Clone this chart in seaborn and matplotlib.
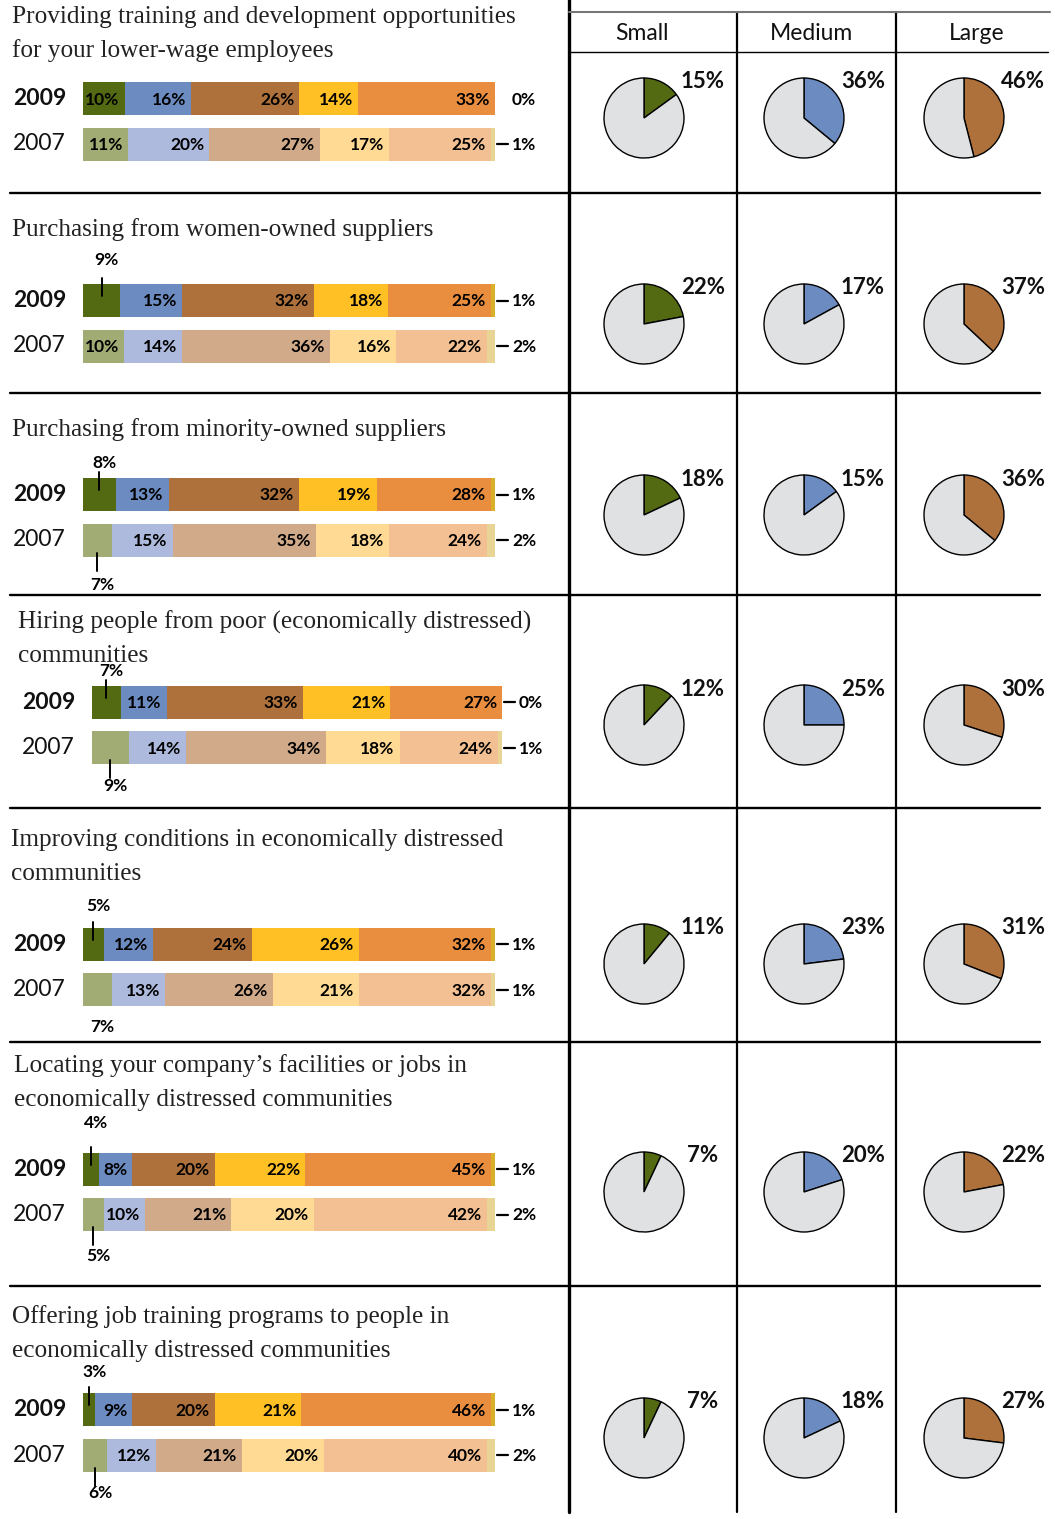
import numpy as np
import pandas as pd
import matplotlib.pyplot as plt
import seaborn as sns

sns.set_theme(style="white")
plt.rcParams['font.family'] = ['Lato', 'DejaVu Sans']

W, H = 1055, 1519

# ---- data ----
titles = [
    "Providing training and development opportunities\nfor your lower-wage employees",
    "Purchasing from women-owned suppliers",
    "Purchasing from minority-owned suppliers",
    "Hiring people from poor (economically distressed)\ncommunities",
    "Improving conditions in economically distressed\ncommunities",
    "Locating your company\u2019s facilities or jobs in\neconomically distressed communities",
    "Offering job training programs to people in\neconomically distressed communities",
]
years = ["2009", "2007"]
vals_2009 = [
    [10, 16, 26, 14, 33, 0],
    [9, 15, 32, 18, 25, 1],
    [8, 13, 32, 19, 28, 1],
    [7, 11, 33, 21, 27, 0],
    [5, 12, 24, 26, 32, 1],
    [4, 8, 20, 22, 45, 1],
    [3, 9, 20, 21, 46, 1],
]
vals_2007 = [
    [11, 20, 27, 17, 25, 1],
    [10, 14, 36, 16, 22, 2],
    [7, 15, 35, 18, 24, 2],
    [9, 14, 34, 18, 24, 1],
    [7, 13, 26, 21, 32, 1],
    [5, 10, 21, 20, 42, 2],
    [6, 12, 21, 20, 40, 2],
]
sizes = ["Small", "Medium", "Large"]
pie_small = [15, 22, 18, 12, 11, 7, 7]
pie_medium = [36, 17, 15, 25, 23, 20, 18]
pie_large = [46, 37, 36, 30, 31, 22, 27]

# ---- colours ----
col09 = ["#546A12", "#6C8CC1", "#AE713B", "#FEC024", "#E98D3F", "#D8B02A"]
col07 = ["#A0AC74", "#ADBADD", "#D0AA89", "#FEDA94", "#F3C093", "#E8D595"]
pie_cols = ["#546A12", "#6C8CC1", "#AE713B"]
pie_grey = "#E0E1E3"

# ---- layout (pixels) ----
title_y = [17, 230, 430, 622, 840, 1066, 1317]
title_x = [12, 12, 12, 18, 11, 14, 12]
bar_y = [98.5, 300.5, 494.5, 702, 944.5, 1169, 1409.5]
bar_gap = 45.5
bar_h = 33
bar_x = [(83, 495)] * 3 + [(92, 502)] + [(83, 495)] * 3
above_off = [20, 24, 15, 15, 22, 29, 21]
below_off = [23, 23, 29, 22, 21, 25, 21]
pie_y = [118, 324, 515, 725, 964, 1192, 1438]
pie_x = [644, 804, 964]
seps = [193, 393, 595, 808, 1042, 1286]
no_dash = {(0, 0)}
no_tick = {(4, 1)}

LBL = 12.5


def frac(x0, y0, x1, y1):
    return [x0 / W, 1 - y1 / H, (x1 - x0) / W, (y1 - y0) / H]


fig = plt.figure(figsize=(W / 100, H / 100), dpi=100)
bg = fig.add_axes([0, 0, 1, 1])
bg.set_xlim(0, W)
bg.set_ylim(H, 0)
bg.axis('off')

# grid lines
bg.plot([569, 569], [0, 1512], color='black', lw=2.4)
for x in [737, 896]:
    bg.plot([x, x], [12, 1512], color='black', lw=1.6)
bg.plot([569, 1050], [12, 12], color='#777777', lw=1.5)
bg.plot([569, 1048], [52, 52], color='black', lw=1.0)
for y in seps:
    bg.plot([10, 1040], [y, y], color='black', lw=1.7)

for x, s in zip([642, 812, 977], sizes):
    bg.text(x, 33, s, fontsize=16.5, ha='center', va='center', color='#111111')

# titles
for r, t in enumerate(titles):
    for n, line in enumerate(t.split("\n")):
        bg.text(title_x[r], title_y[r] + n * 34, line, fontsize=18.2,
                family=['Liberation Serif', 'DejaVu Serif'],
                ha='left', va='center', color='#222222')

half = bar_h / bar_gap / 2
for r in range(len(titles)):
    x0, x1 = bar_x[r]
    y0 = bar_y[r] - bar_gap / 2
    y1 = bar_y[r] + bar_gap * 1.5
    ax = fig.add_axes(frac(x0, y0, x1, y1))
    rows = [vals_2009[r], vals_2007[r]]
    cums = [np.cumsum(v) / sum(v) * 100 for v in rows]
    df = pd.DataFrame({'year': years})
    for k in range(6):
        df[f'c{k}'] = [cums[0][k], cums[1][k]]
    for k in reversed(range(6)):
        sns.barplot(data=df, x=f'c{k}', y='year', hue='year', order=years,
                    hue_order=years, palette={'2009': col09[k], '2007': col07[k]},
                    dodge=False, legend=False, width=bar_h / bar_gap,
                    saturation=1, errorbar=None, linewidth=0, ax=ax, orient='h')
    ax.set_xlim(0, 100)
    ax.set_ylim(1.5, -0.5)
    ax.set_axis_off()
    ppu = (x1 - x0) / 100  # pixels per percent

    for i, (year, v, c) in enumerate(zip(years, rows, cums)):
        ax.annotate(year, xy=(0, i), xytext=(-70, 0), textcoords='offset pixels',
                    ha='left', va='center', fontsize=16.5,
                    fontweight='bold' if i == 0 else 'normal', color='#111111',
                    annotation_clip=False)
        # inner labels
        for k in range(5):
            if k == 0 and v[0] < 10:
                continue
            ax.annotate(f"{v[k]}%", xy=(c[k], i), xytext=(-5, -1),
                        textcoords='offset pixels', ha='right', va='center',
                        fontsize=LBL, fontweight='bold', color='black')
        # small first segment labelled outside
        if v[0] < 10:
            xc = c[0] / 2
            if i == 0:
                edge = i - half
                if (r, i) not in no_tick:
                    ax.plot([xc, xc], [edge - 6 / bar_gap, edge + 12 / bar_gap],
                            color='black', lw=1.4, clip_on=False)
                ax.annotate(f"{v[0]}%", xy=(xc, edge), xytext=(5, above_off[r]),
                            textcoords='offset pixels', ha='center', va='center',
                            fontsize=LBL, fontweight='bold', color='black',
                            annotation_clip=False)
            else:
                edge = i + half
                if (r, i) not in no_tick:
                    ax.plot([xc, xc], [edge - 4 / bar_gap, edge + 14 / bar_gap],
                            color='black', lw=1.4, clip_on=False)
                ax.annotate(f"{v[0]}%", xy=(xc, edge), xytext=(5, -below_off[r]),
                            textcoords='offset pixels', ha='center', va='center',
                            fontsize=LBL, fontweight='bold', color='black',
                            annotation_clip=False)
        # remainder label
        if (r, i) not in no_dash:
            ax.plot([100 + 2 / ppu, 100 + 13 / ppu], [i, i], color='black',
                    lw=1.6, clip_on=False)
        ax.annotate(f"{v[5]}%", xy=(100, i), xytext=(17, -1),
                    textcoords='offset pixels', ha='left', va='center',
                    fontsize=LBL, fontweight='bold', color='black',
                    annotation_clip=False)

# pies
pie_vals = [pie_small, pie_medium, pie_large]
for r in range(len(titles)):
    for j in range(3):
        v = pie_vals[j][r]
        cx, cy = pie_x[j], pie_y[r]
        pax = fig.add_axes(frac(cx - 50, cy - 50, cx + 50, cy + 50))
        pax.pie([v, 100 - v], colors=[pie_cols[j], pie_grey], startangle=90,
                counterclock=False,
                wedgeprops=dict(edgecolor='black', linewidth=1.0))
        pax.set_xlim(-1.25, 1.25)
        pax.set_ylim(-1.25, 1.25)
        pax.annotate(f"{v}%", xy=(0, 0), xytext=(59, 36),
                     textcoords='offset pixels', ha='center', va='center',
                     fontsize=16, fontweight='bold', color='#111111',
                     annotation_clip=False)

fig.savefig("out.png", dpi=100)
